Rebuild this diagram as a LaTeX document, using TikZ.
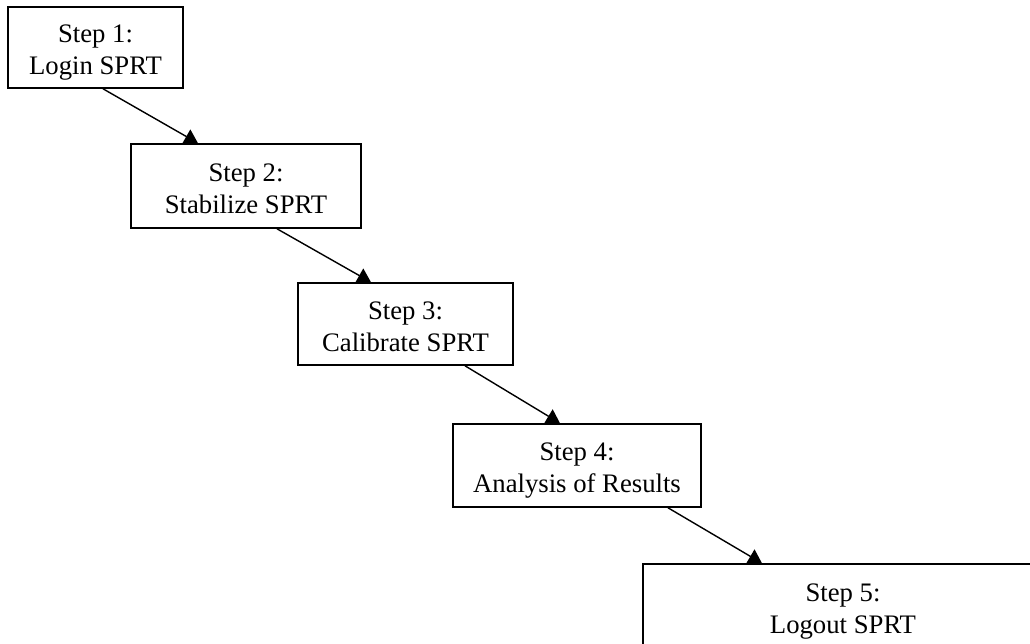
\documentclass[tikz,border=0pt]{standalone}
\usepackage{fontspec}
\setmainfont{Liberation Serif}
\usepackage{tikz}
\usetikzlibrary{arrows.meta, positioning}

\begin{document}
\begin{tikzpicture}[>={Triangle[length=0.27cm,width=0.32cm]},
  stepbox/.style={draw, line width=0.9pt, align=center, inner sep=0pt, minimum height=1.66cm, text height=35pt, text depth=4pt, font=\fontsize{15.2}{18.2}\selectfont},
  steparrow/.style={->, line width=0.8pt}]

\useasboundingbox (0,0) rectangle (20.6,12.86);
\clip (0,0) rectangle (20.6,12.86);

% Steps
\node[stepbox, minimum width=3.5cm, minimum height=1.62cm] at (1.91,11.91) (s1) {Step 1:\\Login SPRT};
\node[stepbox, minimum width=4.6cm, minimum height=1.68cm] at (4.92,9.14) (s2) {Step 2:\\Stabilize SPRT};
\node[stepbox, minimum width=4.3cm, minimum height=1.64cm] at (8.11,6.38) (s3) {Step 3:\\Calibrate SPRT};
\node[stepbox, minimum width=4.96cm] at (11.54,3.55) (s4) {Step 4:\\Analysis of Results};
\node[stepbox, minimum width=8cm, minimum height=1.68cm] at (16.86,0.74) (s5) {Step 5:\\Logout SPRT};

% Connections
\draw[steparrow] ([xshift=0.15cm]s1.south) -- ([xshift=-0.96cm]s2.north);
\draw[steparrow] ([xshift=0.62cm]s2.south) -- ([xshift=-0.69cm]s3.north);
\draw[steparrow] ([xshift=1.19cm]s3.south) -- ([xshift=-0.34cm]s4.north);
\draw[steparrow] ([xshift=1.82cm]s4.south) -- ([xshift=-1.62cm]s5.north);

\end{tikzpicture}
\end{document}
